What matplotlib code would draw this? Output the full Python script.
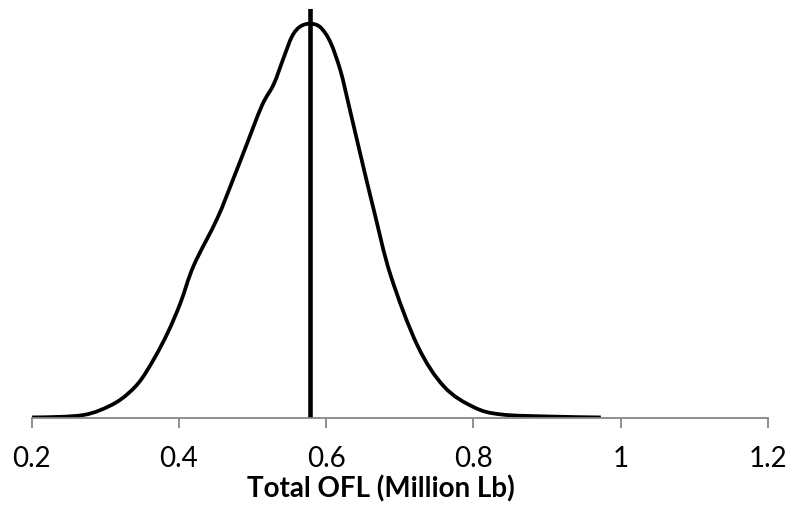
import matplotlib
matplotlib.use("Agg")
import matplotlib.pyplot as plt
from matplotlib.path import Path
from matplotlib.patches import PathPatch
import numpy as np

# Data
ofl = [0.20, 0.24, 0.27, 0.293, 0.32, 0.345, 0.366, 0.385, 0.402, 0.42,
       0.452, 0.474, 0.49, 0.5127, 0.5287, 0.5423, 0.5537, 0.565, 0.5786,
       0.592, 0.6058, 0.6194, 0.6308, 0.6467, 0.6648, 0.6875, 0.724, 0.76,
       0.80, 0.837, 0.905, 0.973]
density = [0.003, 0.01, 0.03, 0.085, 0.20, 0.39, 0.66, 0.96, 1.29, 1.71,
           2.24, 2.69, 3.03, 3.51, 3.75, 4.05, 4.29, 4.40, 4.43,
           4.39, 4.22, 3.90, 3.51, 2.95, 2.33, 1.60, 0.81, 0.35,
           0.12, 0.037, 0.013, 0.003]
ofl_estimate = 0.578
xticks = [0.2, 0.4, 0.6, 0.8, 1.0, 1.2]
xticklabels = ["0.2", "0.4", "0.6", "0.8", "1", "1.2"]
xlabel = "Total OFL (Million Lb)"

W, H = 788, 506
fig = plt.figure(figsize=(W / 100, H / 100), dpi=100)
ax = fig.add_axes([31.7 / W, (H - 418.7) / H, (768 - 31.7) / W, (418.7 - 10) / H])

# smooth curve (Excel-style smoothed line) via cubic Bezier segments
P = np.column_stack([ofl, density])
n = len(P)
verts = [tuple(P[0])]
codes = [Path.MOVETO]
for i in range(n - 1):
    p0 = P[i - 1] if i > 0 else P[i]
    p1 = P[i]
    p2 = P[i + 1]
    p3 = P[i + 2] if i + 2 < n else P[i + 1]
    c1 = p1 + (p2 - p0) / 6.0
    c2 = p2 - (p3 - p1) / 6.0
    verts += [tuple(c1), tuple(c2), tuple(p2)]
    codes += [Path.CURVE4] * 3
ax.add_patch(PathPatch(Path(verts, codes), fill=False, edgecolor="black",
                       linewidth=2.7, capstyle="butt", joinstyle="round"))

ax.axvline(ofl_estimate, color="black", linewidth=3.3)

ax.set_xlim(0.2, 1.2)
ax.set_ylim(0, 409 / 89)
ax.set_xticks(xticks)
ax.set_xticklabels(xticklabels, fontfamily="Lato", fontsize=20)
ax.set_yticks([])
for s in ["left", "right", "top"]:
    ax.spines[s].set_visible(False)
ax.spines["bottom"].set_color("#868686")
ax.spines["bottom"].set_linewidth(1.3)
ax.tick_params(axis="x", direction="out", length=7.5, width=1.3,
               color="#868686", pad=12, labelcolor="black")

fig.text(380.7 / W, 1 - 497 / H, xlabel, ha="center", va="baseline",
         fontfamily="Lato", fontweight="bold", fontsize=20)

fig.savefig("out.png", dpi=100)
